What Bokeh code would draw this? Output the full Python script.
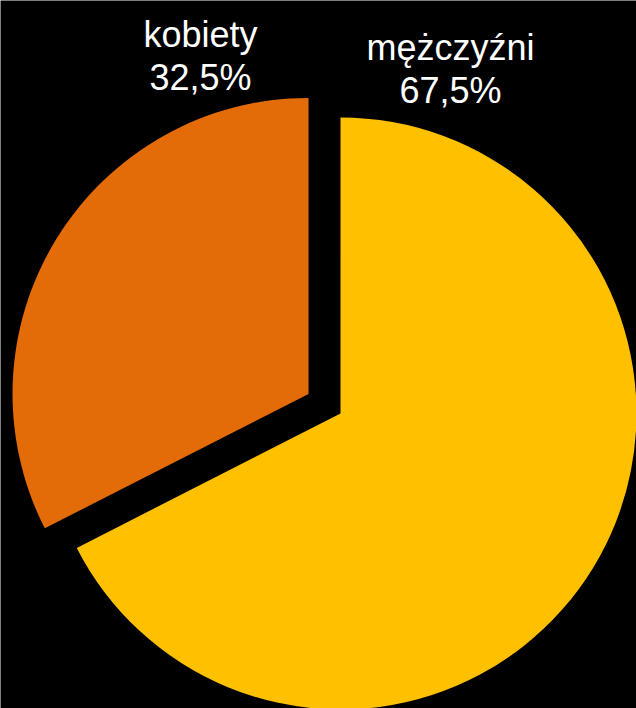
import math
from bokeh.plotting import figure
from bokeh.models import Range1d, ColumnDataSource
from bokeh.core.properties import value
from bokeh.embed import file_html
from bokeh.resources import INLINE

# ---- data ----
categories = ["mężczyźni", "kobiety"]
shares = [67.5, 32.5]
colors = ["#FFC000", "#E36C09"]
explode = [0.0, 37.5]          # pixels offset along the slice bisector

W, H = 636, 708
p = figure(width=W, height=H, x_range=Range1d(0, W), y_range=Range1d(0, H),
           output_backend="svg", toolbar_location=None, min_border=0)
p.axis.visible = False
p.grid.visible = False
p.outline_line_color = None
p.background_fill_color = "black"
p.border_fill_color = "black"

cx, cy, r = 340, 295, 296
total = sum(shares)
start = math.pi / 2  # start at 12 o'clock, clockwise
xs, ys, sa, ea = [], [], [], []
for v, ex in zip(shares, explode):
    sweep = 2 * math.pi * v / total
    end = start - sweep
    mid = (start + end) / 2
    xs.append(cx + ex * math.cos(mid))
    ys.append(cy + ex * math.sin(mid))
    sa.append(end)
    ea.append(start)
    start = end

src = ColumnDataSource(dict(x=xs, y=ys, s=sa, e=ea, c=colors))
p.wedge(x="x", y="y", radius=r, start_angle="s", end_angle="e",
        fill_color="c", line_color=None, source=src)

# labels
label_pos = {"mężczyźni": (450, 661), "kobiety": (200, 674)}
line_gap = 43
for name, v in zip(categories, shares):
    lx, ly = label_pos[name]
    pct = f"{v:.1f}".replace(".", ",") + "%"
    p.text(x=[lx, lx], y=[ly, ly - line_gap], text=[name, pct],
           text_align="center", text_baseline="alphabetic",
           text_font=value("Liberation Sans"), text_font_size="36px",
           text_color="white")

open("out.html", "w").write(file_html(p, INLINE))
